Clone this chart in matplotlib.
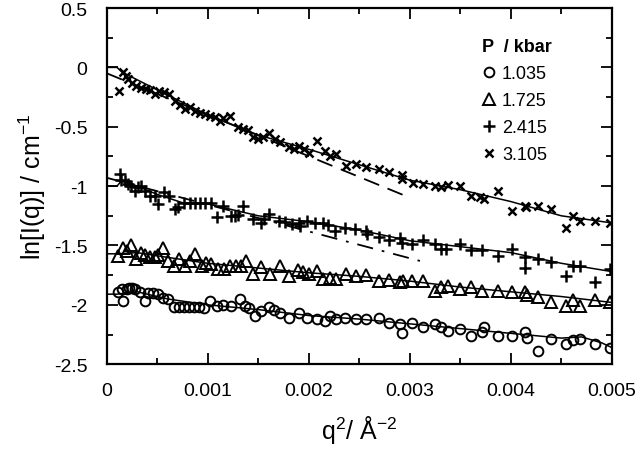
import matplotlib
matplotlib.use("Agg")
import matplotlib.pyplot as plt
from matplotlib.ticker import MultipleLocator

plt.rcParams["font.family"] = ["Liberation Sans", "DejaVu Sans"]
plt.rcParams["mathtext.fontset"] = "custom"
plt.rcParams["mathtext.rm"] = "Liberation Sans"
plt.rcParams["mathtext.it"] = "Liberation Sans:italic"

# P = 1.035 kbar (circles)
q_1035 = [0.00011, 0.00015, 0.00016, 0.0002, 0.00022, 0.00025, 0.00028, 0.00033, 0.00038, 0.00041,
          0.00046, 0.00051, 0.00056, 0.00061, 0.00066, 0.00071, 0.00076, 0.00081, 0.00086, 0.00091,
          0.00096, 0.00102, 0.00109, 0.00115, 0.00123, 0.00132, 0.00137, 0.00141, 0.00147, 0.00153,
          0.00161, 0.00165, 0.00171, 0.0018, 0.0019, 0.00198, 0.00208, 0.00216, 0.00221, 0.00227,
          0.00236, 0.00247, 0.00257, 0.00269, 0.00279, 0.0029, 0.00292, 0.00302, 0.00313, 0.00325,
          0.00331, 0.00338, 0.0035, 0.00361, 0.00371, 0.00373, 0.00387, 0.00401, 0.00414, 0.00416,
          0.00427, 0.0044, 0.00455, 0.00462, 0.00468, 0.00483, 0.00498]
ln_1035 = [-1.895, -1.87, -1.97, -1.87, -1.86, -1.86, -1.87, -1.89, -1.97, -1.90,
           -1.90, -1.91, -1.94, -1.95, -2.02, -2.02, -2.02, -2.02, -2.02, -2.02,
           -2.03, -1.97, -2.01, -2.0, -2.01, -1.95, -2.01, -2.03, -2.09, -2.05,
           -2.02, -2.04, -2.07, -2.11, -2.07, -2.11, -2.12, -2.135, -2.09, -2.12,
           -2.11, -2.12, -2.12, -2.11, -2.15, -2.16, -2.24, -2.15, -2.19, -2.16,
           -2.19, -2.22, -2.2, -2.26, -2.23, -2.19, -2.26, -2.26, -2.23, -2.28,
           -2.39, -2.29, -2.33, -2.30, -2.29, -2.33, -2.36]

# P = 1.725 kbar (triangles)
q_1725 = [0.00011, 0.00016, 0.0002, 0.00024, 0.00029, 0.00034, 0.00038, 0.00043, 0.00048, 0.00051,
          0.00056, 0.00061, 0.00066, 0.00071, 0.00077, 0.00082, 0.00087, 0.00094, 0.00098, 0.00103,
          0.0011, 0.00116, 0.00122, 0.00128, 0.00133, 0.00138, 0.00145, 0.00153, 0.00162, 0.00171,
          0.0018, 0.00189, 0.00194, 0.002, 0.00208, 0.00214, 0.00221, 0.00227, 0.00237, 0.00247,
          0.00257, 0.00269, 0.00279, 0.0029, 0.00293, 0.00302, 0.00313, 0.00325, 0.00331, 0.00338,
          0.0035, 0.00361, 0.00371, 0.00387, 0.00401, 0.00414, 0.00416, 0.00427, 0.0044, 0.00455,
          0.00462, 0.00468, 0.00483, 0.00498]
ln_1725 = [-1.59, -1.52, -1.55, -1.50, -1.615, -1.56, -1.58, -1.60, -1.60, -1.58,
           -1.52, -1.63, -1.67, -1.615, -1.67, -1.63, -1.57, -1.67, -1.65, -1.66,
           -1.70, -1.70, -1.67, -1.67, -1.67, -1.63, -1.74, -1.685, -1.74, -1.67,
           -1.755, -1.71, -1.72, -1.74, -1.715, -1.78, -1.77, -1.78, -1.74, -1.755,
           -1.75, -1.80, -1.79, -1.81, -1.80, -1.80, -1.80, -1.88, -1.85, -1.84,
           -1.87, -1.85, -1.88, -1.88, -1.89, -1.89, -1.92, -1.93, -1.98, -2.01,
           -1.96, -2.01, -1.96, -1.98]

# P = 2.415 kbar (plus)
q_2415 = [0.00013, 0.00014, 0.00018, 0.00021, 0.00024, 0.00028, 0.00031, 0.00034, 0.00038, 0.00043,
          0.00048, 0.00051, 0.00057, 0.00062, 0.00067, 0.0007, 0.00076, 0.00082, 0.00087, 0.00092,
          0.00097, 0.00103, 0.00109, 0.00115, 0.00123, 0.00127, 0.0013, 0.00135, 0.00145, 0.00153,
          0.00156, 0.00161, 0.0017, 0.00176, 0.00183, 0.0019, 0.00191, 0.00198, 0.00206, 0.00214,
          0.00219, 0.00226, 0.00236, 0.00246, 0.00257, 0.00258, 0.00269, 0.00279, 0.0029, 0.00292,
          0.00302, 0.00313, 0.00325, 0.00331, 0.00336, 0.0035, 0.00361, 0.00371, 0.00387, 0.00401,
          0.00414, 0.00414, 0.00427, 0.0044, 0.00455, 0.00462, 0.00468, 0.00483, 0.00498]
ln_2415 = [-0.90, -0.95, -0.955, -0.98, -1.0, -1.04, -1.01, -1.0, -1.04, -1.08,
           -1.08, -1.15, -1.05, -1.08, -1.19, -1.18, -1.14, -1.14, -1.14, -1.14,
           -1.14, -1.14, -1.26, -1.17, -1.25, -1.25, -1.24, -1.165, -1.28, -1.31,
           -1.28, -1.235, -1.29, -1.30, -1.32, -1.31, -1.34, -1.29, -1.31, -1.31,
           -1.33, -1.38, -1.35, -1.36, -1.38, -1.40, -1.43, -1.45, -1.44, -1.48,
           -1.49, -1.45, -1.49, -1.53, -1.53, -1.49, -1.54, -1.54, -1.59, -1.53,
           -1.60, -1.69, -1.61, -1.64, -1.755, -1.67, -1.67, -1.81, -1.70]

# P = 3.105 kbar (crosses)
q_3105 = [0.00012, 0.00016, 0.000185, 0.00021, 0.000244, 0.00029, 0.00034, 0.00039, 0.00043, 0.00048,
          0.00052, 0.00057, 0.00062, 0.00067, 0.00072, 0.00077, 0.00082, 0.00087, 0.00092, 0.00097,
          0.00102, 0.00107, 0.00112, 0.00115, 0.00122, 0.0013, 0.00135, 0.0014, 0.00145, 0.0015,
          0.00155, 0.00161, 0.00166, 0.00171, 0.0018, 0.00185, 0.0019, 0.00195, 0.002, 0.00208,
          0.00216, 0.00221, 0.00227, 0.00237, 0.00247, 0.00257, 0.00269, 0.00279, 0.00292, 0.00292,
          0.00303, 0.00313, 0.00325, 0.00331, 0.00338, 0.0035, 0.00361, 0.00369, 0.00373, 0.00387,
          0.00401, 0.00414, 0.00415, 0.00427, 0.0044, 0.00455, 0.00462, 0.00468, 0.00483, 0.00498]
ln_3105 = [-0.20, -0.04, -0.07, -0.10, -0.13, -0.155, -0.17, -0.18, -0.19, -0.225,
           -0.20, -0.21, -0.225, -0.28, -0.32, -0.35, -0.335, -0.365, -0.38, -0.39,
           -0.41, -0.42, -0.45, -0.43, -0.41, -0.505, -0.52, -0.53, -0.59, -0.60,
           -0.585, -0.55, -0.60, -0.63, -0.67, -0.69, -0.66, -0.69, -0.72, -0.62,
           -0.70, -0.745, -0.73, -0.83, -0.81, -0.835, -0.857, -0.885, -0.91, -0.94,
           -0.97, -0.98, -1.0, -1.01, -0.99, -1.0, -1.08, -1.09, -1.11, -1.04,
           -1.21, -1.165, -1.175, -1.165, -1.19, -1.35, -1.25, -1.29, -1.29, -1.31]

# smooth curves through each data set
fit_q_1035 = [0, 0.0001, 0.0003, 0.0006, 0.001, 0.0015, 0.002, 0.0025, 0.003, 0.0035, 0.004, 0.0045, 0.0047, 0.0049, 0.005]
fit_1035 = [-1.91, -1.91, -1.89, -1.95, -2.0, -2.04, -2.09, -2.12, -2.16, -2.2, -2.24, -2.28, -2.27, -2.32, -2.36]
fit_q_1725 = [0, 0.0001, 0.0003, 0.0006, 0.001, 0.0015, 0.002, 0.0025, 0.003, 0.0035, 0.004, 0.0045, 0.005]
fit_1725 = [-1.57, -1.57, -1.56, -1.60, -1.65, -1.69, -1.73, -1.76, -1.80, -1.85, -1.89, -1.93, -1.98]
fit_q_2415 = [0, 0.0001, 0.00015, 0.0003, 0.0005, 0.00075, 0.001, 0.0015, 0.002, 0.0025, 0.003, 0.0035, 0.004, 0.0045, 0.005]
fit_2415 = [-1.0, -1.0, -0.95, -1.0, -1.07, -1.14, -1.15, -1.25, -1.30, -1.37, -1.46, -1.51, -1.56, -1.65, -1.72]
fit_q_3105 = [0, 0.0001, 0.00015, 0.0005, 0.001, 0.0015, 0.002, 0.0025, 0.003, 0.0035, 0.004, 0.0045, 0.005]
fit_3105 = [0, 0, -0.04, -0.19, -0.40, -0.57, -0.69, -0.82, -0.95, -1.03, -1.13, -1.25, -1.31]

# straight Guinier lines (end points)
guinier_q_3105 = [0, 0.00295]
guinier_3105 = [-0.05, -1.08]
guinier_q_2415 = [0, 0.0031]
guinier_2415 = [-0.93, -1.63]

x_ticks = [0, 0.001, 0.002, 0.003, 0.004, 0.005]
x_ticklabels = ["0", "0.001", "0.002", "0.003", "0.004", "0.005"]
y_ticks = [0.5, 0, -0.5, -1, -1.5, -2, -2.5]
y_ticklabels = ["0.5", "0", "-0.5", "-1", "-1.5", "-2", "-2.5"]

fig = plt.figure(figsize=(6.4, 4.52), dpi=100)
ax = fig.add_axes([0.167, 0.192, 0.789, 0.788])

lw = 1.1
ax.plot(fit_q_1035, fit_1035, color="black", lw=lw)
ax.plot(fit_q_1725, fit_1725, color="black", lw=lw)
ax.plot(fit_q_2415, fit_2415, color="black", lw=lw)
ax.plot(fit_q_3105, fit_3105, color="black", lw=lw)
ax.plot(guinier_q_3105, guinier_3105, color="black", lw=1.3, linestyle=(0, (9, 5)))
ax.plot(guinier_q_2415, guinier_2415, color="black", lw=1.3, linestyle=(0, (9, 5, 1.5, 5)))

h1, = ax.plot(q_1035, ln_1035, linestyle="none", marker="o", ms=7, mfc="none",
              mec="black", mew=1.4, label="1.035")
h2, = ax.plot(q_1725, ln_1725, linestyle="none", marker="^", ms=8, mfc="none",
              mec="black", mew=1.4, label="1.725")
h3, = ax.plot(q_2415, ln_2415, linestyle="none", marker="+", ms=8,
              mec="black", mew=1.8, label="2.415")
h4, = ax.plot(q_3105, ln_3105, linestyle="none", marker="x", ms=6,
              mec="black", mew=1.8, label="3.105")

ax.set_xlim(0, 0.005)
ax.set_ylim(-2.5, 0.5)
ax.set_xticks(x_ticks, x_ticklabels)
ax.set_yticks(y_ticks, y_ticklabels)
ax.xaxis.set_minor_locator(MultipleLocator(0.0005))
ax.yaxis.set_minor_locator(MultipleLocator(0.25))

ax.tick_params(which="both", direction="in", top=True, right=True, width=1.3,
               labelsize=14)
ax.tick_params(axis="x", pad=13)
ax.tick_params(axis="y", pad=14)
ax.tick_params(which="major", length=8)
ax.tick_params(which="minor", length=4)
for sp in ax.spines.values():
    sp.set_linewidth(1.6)

ax.set_xlabel(r"q$^{2}$/ Å$^{-2}$", fontsize=18, labelpad=10)
ax.set_ylabel(r"ln[I(q)] / cm$^{-1}$", fontsize=18, labelpad=4)

leg = ax.legend(handles=[h1, h2, h3, h4], title="P  / kbar", loc="upper left",
                bbox_to_anchor=(0.725, 0.94), frameon=False, fontsize=13,
                handlelength=0.8, handletextpad=0.3, labelspacing=0.55,
                borderpad=0, alignment="left",
                title_fontproperties={"weight": "bold", "size": 13})

fig.savefig("out.png", dpi=100)
